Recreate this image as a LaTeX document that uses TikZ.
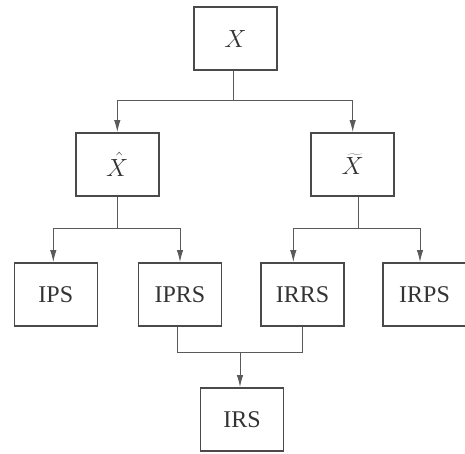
\documentclass[tikz,border=0pt]{standalone}
\usepackage{fontspec}
\setmainfont{Liberation Serif}
\usetikzlibrary{arrows.meta}
\definecolor{boxc}{HTML}{4A4A4A}
\definecolor{linec}{HTML}{5A5A5A}
\begin{document}
\begin{tikzpicture}[x=1pt,y=-1pt,
  blk/.style={draw=boxc,line width=1.6pt,minimum width=83pt,minimum height=63pt,inner sep=0pt,text=black!80,font=\fontsize{24}{28}\selectfont},
  mblk/.style={blk,font=\fontsize{26}{30}\selectfont},
  conn/.style={draw=linec,line width=0.9pt},
  arr/.style={conn,-{Latex[length=12pt,width=6.5pt]}}]
\useasboundingbox (0,0) rectangle (465,453);
\node[mblk] (x) at (235.5,38.5) {$X$};
\node[mblk] (xh) at (117.3,164.3) {$\hat{X}$};
\node[mblk] (xt) at (352.7,164.3) {$\widetilde{X}$};
\node[blk] (ips) at (55.8,294.3) {IPS};
\node[blk] (iprs) at (180,294.3) {IPRS};
\node[blk] (irrs) at (302.5,294.3) {IRRS};
\node[blk] (irps) at (424.5,294.3) {IRPS};
\node[blk] (irs) at (242,419.3) {IRS};
% junctions
\coordinate (j1) at (233,100);
\coordinate (j2) at (117.3,228.7);
\coordinate (j3) at (358,228.7);
\coordinate (j4) at (240,352);
\draw[conn] ([xshift=-2.5pt]x.south) -- (j1);
\draw[arr] (j1) -| (xh.north);
\draw[arr] (j1) -| (xt.north);
\draw[conn] (xh.south) -- (j2);
\draw[arr] (j2) -| ([xshift=-2.5pt]ips.north);
\draw[arr] (j2) -| (iprs.north);
\draw[conn] ([xshift=5.3pt]xt.south) -- (j3);
\draw[arr] (j3) -| ([xshift=-9.2pt]irrs.north);
\draw[arr] (j3) -| ([xshift=-4.5pt]irps.north);
\draw[conn] ([xshift=-2.3pt]iprs.south) |- (j4);
\draw[conn] ([xshift=0.2pt]irrs.south) |- (j4);
\draw[arr] (j4) -- ([xshift=-2pt]irs.north);
\end{tikzpicture}
\end{document}
